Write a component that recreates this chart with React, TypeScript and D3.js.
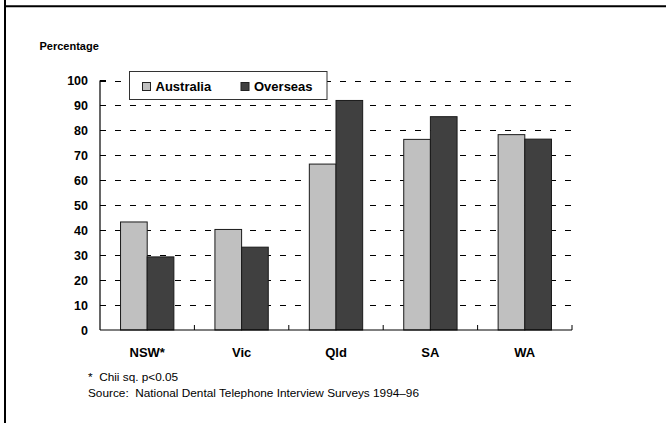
import React from "react";
import * as d3 from "d3";

const categories = ["NSW*", "Vic", "Qld", "SA", "WA"];
const seriesNames = ["Australia", "Overseas"];
const australia = [43.3, 40.3, 66.5, 76.4, 78.3];
const overseas = [29.3, 33.2, 92, 85.5, 76.5];
const yTicks = [0, 10, 20, 30, 40, 50, 60, 70, 80, 90, 100];
const seriesColors = ["#c0c0c0", "#404040"];
const footnotes = ["*  Chii sq. p<0.05", "Source:  National Dental Telephone Interview Surveys 1994\u201396"];

const W = 666;
const H = 423;
const plotLeft = 100;
const plotRight = 572;
const plotTop = 80.5;
const plotBottom = 330;
const font = "'Liberation Sans', Arial, sans-serif";

export default function App() {
  const y = d3.scaleLinear().domain([0, 100]).range([plotBottom, plotTop]);
  const x0 = d3
    .scaleBand<string>()
    .domain(categories)
    .range([plotLeft, plotRight])
    .paddingInner(0.435)
    .paddingOuter(0.2175);
  const x1 = d3.scaleBand<string>().domain(seriesNames).range([0, x0.bandwidth()]);
  const step = x0.step();
  const values = [australia, overseas];
  const bounds = d3.range(categories.length + 1).map((i) => plotLeft + i * step);

  return (
    <svg
      width={W}
      height={H}
      style={{ position: "absolute", left: 0, top: 0, background: "#fff" }}
      fontFamily={font}
    >
      <rect x={0} y={0} width={W} height={H} fill="#fff" />
      {/* frame */}
      <line x1={5} y1={0} x2={5} y2={H} stroke="#000" strokeWidth={2} />
      <line x1={4} y1={6.3} x2={W} y2={6.3} stroke="#000" strokeWidth={2} />

      <text x={39.5} y={50} fontSize={11} fontWeight="bold" fill="#000">
        Percentage
      </text>

      {/* gridlines */}
      {yTicks.filter((t) => t > 0).map((t) => (
        <line
          key={"g" + t}
          x1={plotLeft}
          x2={plotRight}
          y1={Math.round(y(t)) + 0.5}
          y2={Math.round(y(t)) + 0.5}
          stroke="#000"
          strokeWidth={1}
          strokeDasharray="6 9"
        />
      ))}

      {/* y tick labels */}
      {yTicks.map((t) => (
        <text
          key={"yt" + t}
          x={88}
          y={y(t)}
          dy="0.36em"
          textAnchor="end"
          fontSize={12.5}
          fontWeight="bold"
          fill="#000"
        >
          {t}
        </text>
      ))}

      {/* bars */}
      {categories.map((c, i) => (
        <g key={c}>
          {seriesNames.map((s, j) => {
            const bx = (x0(c) as number) + (x1(s) as number);
            const by = y(values[j][i]);
            return (
              <rect
                key={s}
                x={bx}
                y={by}
                width={x1.bandwidth()}
                height={plotBottom - by}
                fill={seriesColors[j]}
                stroke="#1a1a1a"
                strokeWidth={1}
              />
            );
          })}
        </g>
      ))}

      {/* axes */}
      <line x1={plotLeft} x2={plotLeft} y1={plotTop} y2={plotBottom} stroke="#000" strokeWidth={1.2} />
      <line x1={plotLeft} x2={plotRight} y1={plotBottom} y2={plotBottom} stroke="#000" strokeWidth={1.2} />
      <line x1={plotLeft} x2={plotLeft + 6} y1={plotTop} y2={plotTop} stroke="#000" strokeWidth={1} />
      {bounds.slice(1).map((bx, i) => (
        <line key={"xt" + i} x1={bx} x2={bx} y1={plotBottom - 5} y2={plotBottom} stroke="#000" strokeWidth={1} />
      ))}

      {/* x labels */}
      {categories.map((c) => (
        <text
          key={"xl" + c}
          x={(x0(c) as number) + x0.bandwidth() / 2}
          y={357}
          textAnchor="middle"
          fontSize={13}
          fontWeight="bold"
          fill="#000"
        >
          {c}
        </text>
      ))}

      {/* legend */}
      <rect x={129.5} y={71.5} width={197.5} height={28} fill="#fff" stroke="#333" strokeWidth={1} />
      {seriesNames.map((s, j) => {
        const lx = j === 0 ? 142.5 : 241;
        return (
          <g key={"lg" + s}>
            <rect x={lx} y={82.5} width={8} height={8} fill={seriesColors[j]} stroke="#222" strokeWidth={1} />
            <text x={lx + 13} y={90.5} fontSize={13} fontWeight="bold" fill="#000">
              {s}
            </text>
          </g>
        );
      })}

      {/* footnotes */}
      {footnotes.map((f, i) => (
        <text
          key={"fn" + i}
          x={88}
          y={380.5 + i * 16.5}
          fontSize={11.8}
          fill="#000"
          style={{ whiteSpace: "pre" }}
        >
          {f}
        </text>
      ))}
    </svg>
  );
}
